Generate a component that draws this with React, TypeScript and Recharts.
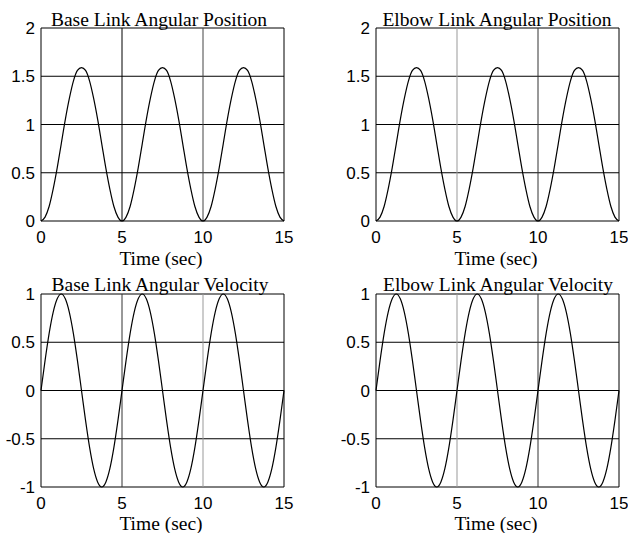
import React from 'react';
import { LineChart, Line, XAxis, YAxis, CartesianGrid, ReferenceLine } from 'recharts';

// Time samples (sec)
const TIME = [
  0, 0.25, 0.5, 0.75, 1, 1.25, 1.5, 1.75, 2, 2.25, 2.5, 2.75, 3, 3.25, 3.5, 3.75, 4, 4.25, 4.5, 4.75,
  5, 5.25, 5.5, 5.75, 6, 6.25, 6.5, 6.75, 7, 7.25, 7.5, 7.75, 8, 8.25, 8.5, 8.75, 9, 9.25, 9.5, 9.75,
  10, 10.25, 10.5, 10.75, 11, 11.25, 11.5, 11.75, 12, 12.25, 12.5, 12.75, 13, 13.25, 13.5, 13.75, 14, 14.25, 14.5, 14.75,
  15,
];

// Angular positions
const BASE_POSITION = [
  0, 0.04, 0.15, 0.33, 0.55, 0.8, 1.05, 1.27, 1.45, 1.56, 1.59, 1.56, 1.45, 1.27, 1.05, 0.8, 0.55, 0.33, 0.15, 0.04,
  0, 0.04, 0.15, 0.33, 0.55, 0.8, 1.05, 1.27, 1.45, 1.56, 1.59, 1.56, 1.45, 1.27, 1.05, 0.8, 0.55, 0.33, 0.15, 0.04,
  0, 0.04, 0.15, 0.33, 0.55, 0.8, 1.05, 1.27, 1.45, 1.56, 1.59, 1.56, 1.45, 1.27, 1.05, 0.8, 0.55, 0.33, 0.15, 0.04,
  0,
];
const ELBOW_POSITION = [
  0, 0.04, 0.15, 0.33, 0.55, 0.8, 1.05, 1.27, 1.45, 1.56, 1.59, 1.56, 1.45, 1.27, 1.05, 0.8, 0.55, 0.33, 0.15, 0.04,
  0, 0.04, 0.15, 0.33, 0.55, 0.8, 1.05, 1.27, 1.45, 1.56, 1.59, 1.56, 1.45, 1.27, 1.05, 0.8, 0.55, 0.33, 0.15, 0.04,
  0, 0.04, 0.15, 0.33, 0.55, 0.8, 1.05, 1.27, 1.45, 1.56, 1.59, 1.56, 1.45, 1.27, 1.05, 0.8, 0.55, 0.33, 0.15, 0.04,
  0,
];

// Angular velocities
const BASE_VELOCITY = [
  0, 0.31, 0.59, 0.81, 0.95, 1, 0.95, 0.81, 0.59, 0.31, 0, -0.31, -0.59, -0.81, -0.95, -1, -0.95, -0.81, -0.59, -0.31,
  0, 0.31, 0.59, 0.81, 0.95, 1, 0.95, 0.81, 0.59, 0.31, 0, -0.31, -0.59, -0.81, -0.95, -1, -0.95, -0.81, -0.59, -0.31,
  0, 0.31, 0.59, 0.81, 0.95, 1, 0.95, 0.81, 0.59, 0.31, 0, -0.31, -0.59, -0.81, -0.95, -1, -0.95, -0.81, -0.59, -0.31,
  0,
];
const ELBOW_VELOCITY = [
  0, 0.31, 0.59, 0.81, 0.95, 1, 0.95, 0.81, 0.59, 0.31, 0, -0.31, -0.59, -0.81, -0.95, -1, -0.95, -0.81, -0.59, -0.31,
  0, 0.31, 0.59, 0.81, 0.95, 1, 0.95, 0.81, 0.59, 0.31, 0, -0.31, -0.59, -0.81, -0.95, -1, -0.95, -0.81, -0.59, -0.31,
  0, 0.31, 0.59, 0.81, 0.95, 1, 0.95, 0.81, 0.59, 0.31, 0, -0.31, -0.59, -0.81, -0.95, -1, -0.95, -0.81, -0.59, -0.31,
  0,
];

const X_TICKS = [0, 5, 10, 15];
const POSITION_TICKS = [0, 0.5, 1, 1.5, 2];
const VELOCITY_TICKS = [-1, -0.5, 0, 0.5, 1];

const TITLES = [
  'Base Link Angular Position',
  'Elbow Link Angular Position',
  'Base Link Angular Velocity',
  'Elbow Link Angular Velocity',
];
const X_LABEL = 'Time (sec)';

const makeData = (values: number[]) => TIME.map((t, i) => ({ t, v: values[i] }));

const TICK_STYLE = { fontFamily: '"Liberation Sans", Arial, sans-serif', fontSize: 17, fill: '#000' };

type PanelProps = {
  left: number;
  top: number;
  width: number;
  height: number;
  margin: { top: number; right: number; bottom: number; left: number };
  values: number[];
  yTicks: number[];
  vColors: string[];
};

function Panel({ left, top, width, height, margin, values, yTicks, vColors }: PanelProps) {
  const data = makeData(values);
  return (
    <div style={{ position: 'absolute', left, top, width, height }}>
      <LineChart width={width} height={height} data={data} margin={margin} style={{ overflow: 'visible' }}>
        <CartesianGrid horizontal={true} vertical={false} stroke="#000" strokeWidth={1} />
        <XAxis
          dataKey="t"
          type="number"
          domain={[0, 15]}
          ticks={X_TICKS}
          interval={0}
          axisLine={false}
          tickLine={false}
          tickSize={0}
          tickMargin={10}
          height={20}
          tick={TICK_STYLE}
        />
        <YAxis
          type="number"
          domain={[yTicks[0], yTicks[yTicks.length - 1]]}
          ticks={yTicks}
          interval={0}
          axisLine={false}
          tickLine={false}
          tickSize={0}
          tickMargin={6}
          width={41}
          tick={TICK_STYLE}
          tickFormatter={(v: number) => String(v)}
        />
        {X_TICKS.map((x, i) => (
          <ReferenceLine key={x} x={x} stroke={vColors[i]} strokeWidth={1} />
        ))}
        <Line
          type="monotone"
          dataKey="v"
          stroke="#000"
          strokeWidth={1.2}
          dot={false}
          isAnimationActive={false}
        />
      </LineChart>
    </div>
  );
}

export default function App() {
  const topMargin = { top: 28, right: 16, bottom: 29, left: 0 };
  const topRightMargin = { top: 28, right: 9, bottom: 29, left: 0 };
  const botMargin = { top: 28, right: 16, bottom: 26, left: 0 };
  const botRightMargin = { top: 28, right: 9, bottom: 26, left: 0 };
  const serif = '"Liberation Serif", "Times New Roman", serif';
  return (
    <div style={{ position: 'absolute', left: 0, top: 0, width: 628, height: 533, background: '#fff' }}>
      <Panel left={0} top={0} width={300} height={270} margin={topMargin} values={BASE_POSITION}
        yTicks={POSITION_TICKS} vColors={['#000', '#000', '#444', '#000']} />
      <Panel left={335} top={0} width={293} height={270} margin={topRightMargin} values={ELBOW_POSITION}
        yTicks={POSITION_TICKS} vColors={['#000', '#999', '#333', '#000']} />
      <Panel left={0} top={266} width={300} height={267} margin={botMargin} values={BASE_VELOCITY}
        yTicks={VELOCITY_TICKS} vColors={['#000', '#333', '#999', '#000']} />
      <Panel left={335} top={266} width={293} height={267} margin={botRightMargin} values={ELBOW_VELOCITY}
        yTicks={VELOCITY_TICKS} vColors={['#000', '#999', '#333', '#000']} />
      <svg width={628} height={533} style={{ position: 'absolute', left: 0, top: 0, pointerEvents: 'none' }}>
        <g fontFamily={serif} fontSize={19.5} fill="#000" textAnchor="middle">
          <text x={159} y={25.5}>{TITLES[0]}</text>
          <text x={497} y={25.5}>{TITLES[1]}</text>
          <text x={160} y={290.5}>{TITLES[2]}</text>
          <text x={498} y={290.5}>{TITLES[3]}</text>
          <text x={161} y={265}>{X_LABEL}</text>
          <text x={496} y={265}>{X_LABEL}</text>
          <text x={161} y={530}>{X_LABEL}</text>
          <text x={496} y={530}>{X_LABEL}</text>
        </g>
      </svg>
    </div>
  );
}
